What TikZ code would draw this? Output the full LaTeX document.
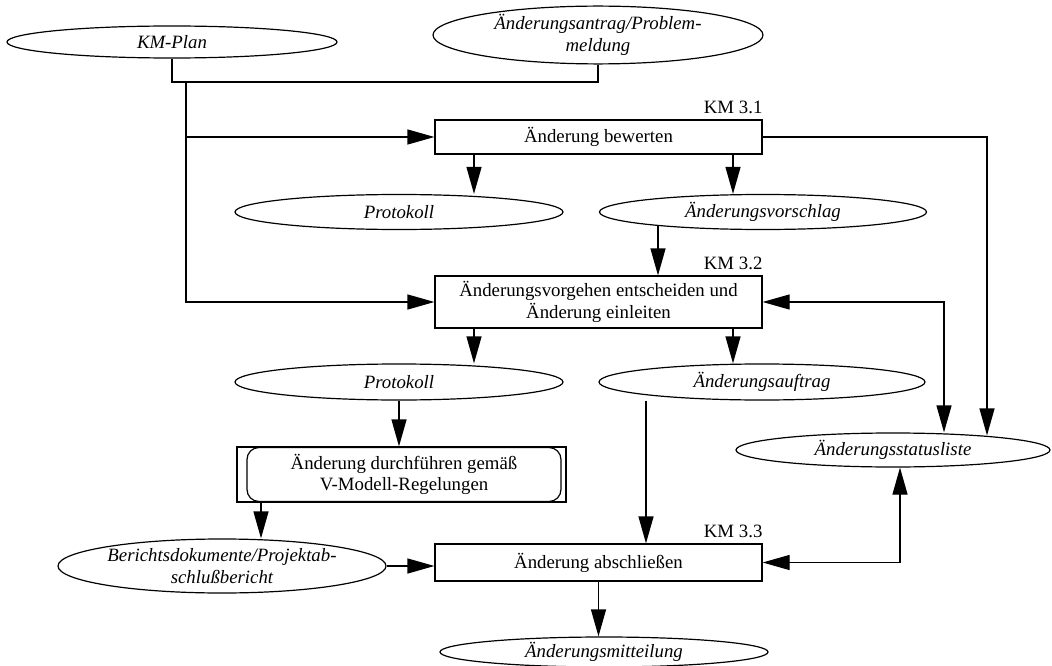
\documentclass[tikz,border=0pt]{standalone}
\usepackage{fontspec}
\setmainfont{Liberation Serif}
\usetikzlibrary{arrows.meta,shapes.geometric}
\begin{document}
\begin{tikzpicture}[x=1pt,y=-1pt,
  every node/.style={font=\fontsize{18.8}{21.6}\selectfont},
  proc/.style={draw,line width=1.2pt,rectangle,minimum width=327pt,inner sep=0pt,align=center},
  doc/.style={draw,line width=1.2pt,ellipse,inner sep=0pt,align=center,font=\fontsize{18.8}{21.6}\selectfont\itshape},
  lbl/.style={anchor=south east,inner sep=0pt},
  conn/.style={line width=1.2pt},
  arr/.style={conn,-{Triangle[length=27pt,width=15pt]}},
  darr/.style={conn,{Triangle[length=27pt,width=15pt]}-{Triangle[length=27pt,width=15pt]}}]
\useasboundingbox (0,0) rectangle (1052,666);

% data / documents
\node[doc,minimum width=330pt,minimum height=32pt] (km) at (172,42) {KM-Plan};
\node[doc,minimum width=330pt,minimum height=48pt] (aa) at (598,35) {Änderungsantrag/Problem-\\meldung};
\node[doc,minimum width=328pt,minimum height=35pt] (p1) at (399,212) {Protokoll};
\node[doc,minimum width=327pt,minimum height=35pt] (vs) at (763,212) {Änderungsvorschlag};
\node[doc,minimum width=328pt,minimum height=36pt] (p2) at (399,382) {Protokoll};
\node[doc,minimum width=326pt,minimum height=36pt] (au) at (762,382) {Änderungsauftrag};
\node[doc,minimum width=314pt,minimum height=34pt] (sl) at (893,450) {Änderungsstatusliste};
\node[doc,minimum width=328pt,minimum height=54pt] (bd) at (222,566) {Berichtsdokumente/Projektab-\\schlußbericht};
\node[doc,minimum width=328pt,minimum height=30pt] (am) at (604,652) {Änderungsmitteilung};

% activities
\node[proc,minimum height=34pt] (b1) at (598.5,137) {Änderung bewerten};
\node[lbl] (l1) at ([yshift=5pt]b1.north east) {KM 3.1};
\node[proc,minimum height=52pt] (b2) at (598.5,302) {Änderungsvorgehen entscheiden und\\Änderung einleiten};
\node[lbl] (l2) at ([yshift=5pt]b2.north east) {KM 3.2};
\node[proc,minimum height=37pt] (b3) at (598.5,562.5) {Änderung abschließen};
\node[lbl] (l3) at ([yshift=5pt]b3.north east) {KM 3.3};
\node[draw,line width=1.2pt,rectangle,minimum width=329pt,minimum height=55pt,inner sep=0pt] (vm) at (401.5,474.5) {};
\node[draw,line width=1.2pt,rectangle,rounded corners=12pt,minimum width=314pt,minimum height=54pt,inner sep=0pt,align=center] (vmi) at (404,474.5) {Änderung durchführen gemäß\\V-Modell-Regelungen};

% helper coordinates
\coordinate (h) at (186,82);
\coordinate (xa) at (474,0);
\coordinate (xb) at (733,0);
\coordinate (xc) at (658,0);
\coordinate (xd) at (261,0);
\coordinate (xe) at (646,0);
\coordinate (vsb) at ([yshift=4pt]vs.south);
\coordinate (s1) at ([xshift=94pt,yshift=-3pt]sl.north);
\coordinate (s2) at ([xshift=51pt]sl.north);
\coordinate (s3) at ([xshift=7pt]sl.south);

% connectors
\draw[conn] (km.south) |- (aa.south |- h) -- (aa.south);
\draw[arr] (h) |- (b2.west);
\draw[arr] (h |- b1.west) -- (b1.west);
\draw[arr] (b1.south -| xa) -- (p1.north -| xa);
\draw[arr] (b1.south -| xb) -- (vs.north -| xb);
\draw[arr] (vsb -| xc) -- (b2.north -| xc);
\draw[arr] (b2.south -| xa) -- (p2.north -| xa);
\draw[arr] (b2.south -| xb) -- (au.north -| xb);
\draw[arr] (p2.south) -- (p2.south |- vm.north);
\draw[arr] (vm.south -| xd) -- (bd.north -| xd);
\draw[arr] (bd.east) -- (bd.east -| b3.west);
\draw[arr] (au.south -| xe) -- (b3.north -| xe);
\draw[arr] (b3.south) -- (b3.south |- am.north);
\draw[arr] (b1.east) -| (s1);
\draw[darr] (b2.east) -| (s2);
\draw[darr] (s3) |- (b3.east);
\end{tikzpicture}
\end{document}
